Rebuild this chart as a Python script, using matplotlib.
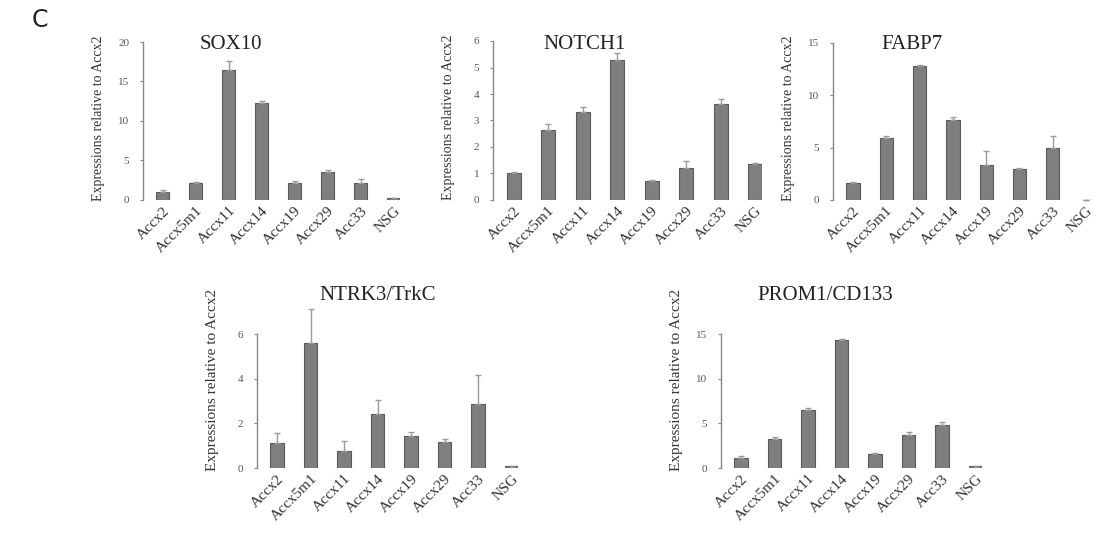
import matplotlib as mpl
mpl.use('Agg')
import matplotlib.pyplot as plt
import numpy as np

plt.rcParams['font.family'] = ['Liberation Serif', 'DejaVu Serif']

# data
samples = ['Accx2', 'Accx5m1', 'Accx11', 'Accx14', 'Accx19', 'Accx29', 'Acc33', 'NSG']

sox10 = [1.0, 2.1, 16.4, 12.3, 2.2, 3.5, 2.2, 0.2]
sox10_err = [0.3, 0.2, 1.2, 0.2, 0.2, 0.3, 0.5, 0.0]

notch1 = [1.02, 2.65, 3.32, 5.3, 0.72, 1.22, 3.62, 1.35]
notch1_err = [0.03, 0.2, 0.2, 0.25, 0.05, 0.25, 0.2, 0.04]

fabp7 = [1.6, 5.9, 12.8, 7.6, 3.3, 2.95, 5.0, 0.0]
fabp7_err = [0.1, 0.2, 0.1, 0.3, 1.4, 0.1, 1.1, 0.0]

ntrk3 = [1.1, 5.6, 0.75, 2.4, 1.45, 1.15, 2.85, 0.1]
ntrk3_err = [0.45, 1.5, 0.45, 0.65, 0.15, 0.15, 1.3, 0.0]

prom1 = [1.1, 3.3, 6.5, 14.3, 1.6, 3.7, 4.8, 0.2]
prom1_err = [0.2, 0.2, 0.2, 0.1, 0.05, 0.3, 0.3, 0.0]

W, H = 1102, 533
fig = plt.figure(figsize=(W / 100, H / 100), dpi=100)

# (title, values, errors, ymax, yticks, spine px, spacing px, zero px, top px,
#  title center px, title y px, ylabel center frac, ylabel size)
panels = [
    ('SOX10', sox10, sox10_err, 20, [0, 5, 10, 15, 20], 143, 33.0, 200, 42, 231, 45, 0.52, 10),
    ('NOTCH1', notch1, notch1_err, 6, [0, 1, 2, 3, 4, 5, 6], 493, 34.5, 200, 41, 585, 45, 0.52, 10),
    ('FABP7', fabp7, fabp7_err, 15, [0, 5, 10, 15], 833, 33.3, 200, 43, 912, 45, 0.52, 10),
    ('NTRK3/TrkC', ntrk3, ntrk3_err, 6, [0, 2, 4, 6], 257, 33.5, 468, 334, 378, 295, 0.66, 11),
    ('PROM1/CD133', prom1, prom1_err, 15, [0, 5, 10, 15], 721, 33.5, 468, 334, 825, 295, 0.66, 11),
]

x = np.arange(len(samples))
xlo, xhi = -0.6, 7.2

for title, vals, errs, ymax, yt, spine, sp, y0, y1, tcx, tcy, ylc, yls in panels:
    width = (xhi - xlo) * sp
    ax = fig.add_axes([spine / W, 1 - y0 / H, width / W, (y0 - y1) / H])
    ax.bar(x, vals, width=0.4, color='#7f7f7f', edgecolor='#5a5a5a', linewidth=0.8)
    eb = ax.errorbar(x, vals, yerr=[np.zeros(len(errs)), errs], fmt='none',
                     ecolor='#9a9a9a', elinewidth=1.0, capsize=2, capthick=1.0)
    for art in eb.lines[1] + eb.lines[2]:
        art.set_clip_on(False)
    ax.set_xlim(xlo, xhi)
    ax.set_ylim(0, ymax)
    ax.set_yticks(yt)
    for s in ['top', 'right', 'bottom']:
        ax.spines[s].set_visible(False)
    ax.spines['left'].set_color('#888888')
    ax.spines['left'].set_linewidth(1.0)
    ax.tick_params(axis='y', length=2, width=0.8, color='#888888', labelsize=8,
                   labelcolor='#555555', pad=8)
    ax.tick_params(axis='x', length=0, labelsize=11, pad=3)
    ax.set_xticks(x)
    ax.set_xticklabels(samples, rotation=45, ha='right', rotation_mode='anchor',
                       color='#333333')
    ax.set_ylabel('Expressions relative to Accx2', fontsize=yls, color='#333333')
    ax.yaxis.set_label_coords(-38 / width, ylc)
    fig.text(tcx / W, 1 - tcy / H, title, ha='center', va='center', fontsize=15,
             color='#222222')

fig.text(40 / W, 1 - 20 / H, 'C', ha='center', va='center', fontsize=17,
         family='DejaVu Sans', color='#222222')

plt.savefig('out.png', dpi=100)
plt.close()
